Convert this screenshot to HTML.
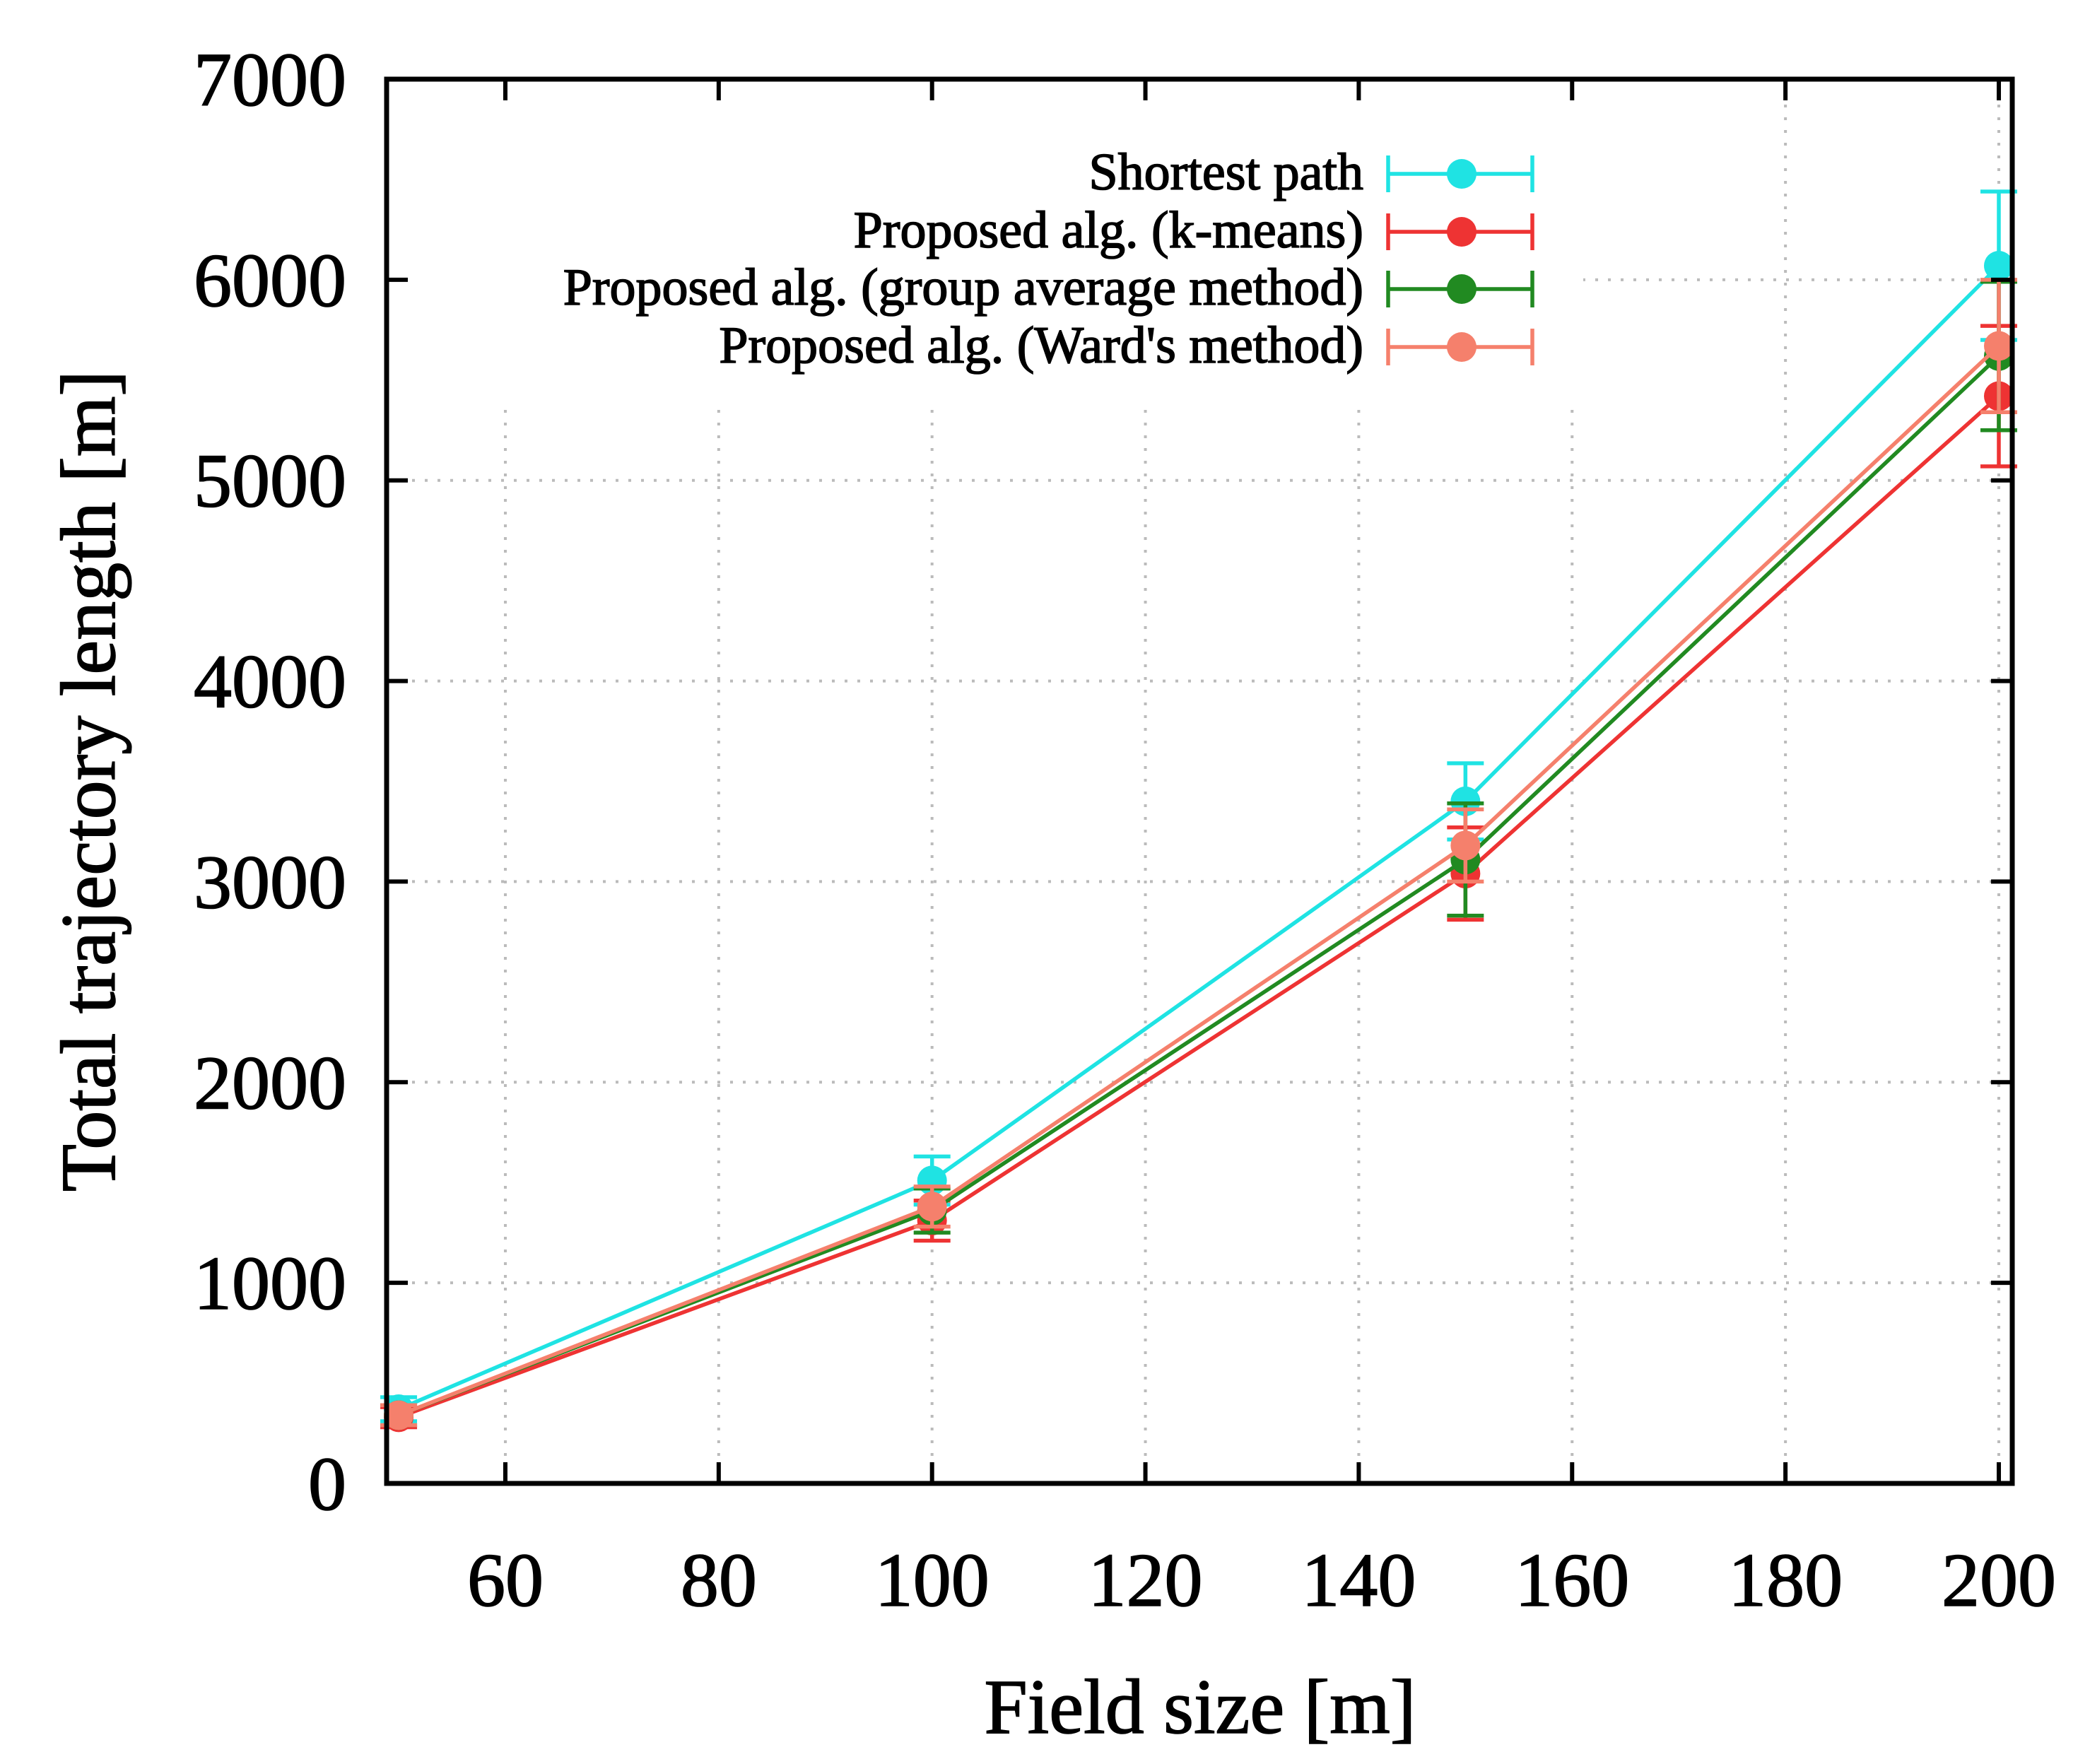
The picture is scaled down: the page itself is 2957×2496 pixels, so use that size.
<!DOCTYPE html>
<html><head><meta charset="utf-8"><style>
html,body{margin:0;padding:0;background:#fff}
svg{display:block}
text{font-family:"Liberation Serif",serif;fill:#000;stroke:#000;stroke-width:1.6}
</style></head><body>
<svg id="chart" width="2957" height="2496" viewBox="0 0 2957 2496" xmlns="http://www.w3.org/2000/svg">
<rect width="2957" height="2496" fill="#fff"/>
<g id="grid"></g>
<g id="series"></g>
<g id="legend"></g>
<g id="axes"></g>
<text x="0" y="0" font-size="110" text-anchor="middle" transform="translate(162,1105) rotate(-90)">Total trajectory length [m]</text>
<text x="1698" y="2452" font-size="110" text-anchor="middle">Field size [m]</text>
</svg>
<script>
const xCategories = [50, 100, 150, 200];
const xTicks = [60, 80, 100, 120, 140, 160, 180, 200];
const yTicks = [0, 1000, 2000, 3000, 4000, 5000, 6000, 7000];
const seriesNames = ["Shortest path", "Proposed alg. (k-means)", "Proposed alg. (group average method)", "Proposed alg. (Ward's method)"];
const shortestVals = [370, 1510, 3400, 6070];
const shortestErr = [60, 120, 190, 370];
const kmeansVals = [330, 1310, 3040, 5420];
const kmeansErr = [50, 100, 230, 350];
const groupVals = [340, 1360, 3110, 5620];
const groupErr = [50, 110, 280, 370];
const wardVals = [340, 1380, 3180, 5670];
const wardErr = [50, 100, 180, 330];

const NS = "http://www.w3.org/2000/svg";
const L = 547, R = 2847, T = 112, B = 2099;
const xMin = 48.87, xMax = 201.26, yMin = 0, yMax = 7000;
function xs(v){ return L + (v - xMin) / (xMax - xMin) * (R - L); }
function ys(v){ return B - (v - yMin) / (yMax - yMin) * (B - T); }
function mk(tag, attrs, parent){ const e = document.createElementNS(NS, tag); for (const k in attrs) e.setAttribute(k, attrs[k]); parent.appendChild(e); return e; }

const grid = document.getElementById('grid');
const axes = document.getElementById('axes');
const series = document.getElementById('series');
const legend = document.getElementById('legend');

xTicks.forEach(t => {
  const g = mk('line', {x1: xs(t), x2: xs(t), y1: T, y2: B, stroke: '#bbb', 'stroke-width': 4, 'stroke-dasharray': '4 14'}, grid);
  
  
});
yTicks.forEach(t => {
  const g = mk('line', {x1: L, x2: R, y1: ys(t), y2: ys(t), stroke: '#bbb', 'stroke-width': 4, 'stroke-dasharray': '4 14'}, grid);
  
  
});
const lb = mk('rect', {x: L + 4, y: T + 4, width: 2236 - L, height: 570 - T, fill: '#fff'}, grid);



const allSeries = [
  {name: seriesNames[0], vals: shortestVals, err: shortestErr, color: '#1fe3e3'},
  {name: seriesNames[1], vals: kmeansVals, err: kmeansErr, color: '#ee3333'},
  {name: seriesNames[2], vals: groupVals, err: groupErr, color: '#218a21'},
  {name: seriesNames[3], vals: wardVals, err: wardErr, color: '#f5806c'}
];
const cap = 26;
allSeries.forEach((s, si) => {
  const grp = mk('g', {}, series);
  
  
  const pts = s.vals.map((v, i) => xs(xCategories[i]) + ',' + ys(v)).join(' ');
  const pl = mk('polyline', {points: pts, fill: 'none', stroke: s.color, 'stroke-width': 5.5}, grp);
  
  
  s.vals.forEach((v, i) => {
    const x = xs(xCategories[i]);
    const y1 = ys(v - s.err[i]), y2 = ys(v + s.err[i]);
    const eb = mk('path', {d: `M${x},${y1}V${y2}M${x-cap},${y1}H${x+cap}M${x-cap},${y2}H${x+cap}`, stroke: s.color, 'stroke-width': 5.5, fill: 'none'}, grp);
    
    
    const c = mk('circle', {cx: x, cy: ys(v), r: 21, fill: s.color}, grp);
    
    
  });
  const ly = [246, 328, 409, 491][si];
  const lg = mk('g', {}, legend);
  
  
  const tx = mk('text', {x: 1929, y: ly + 22, 'font-size': 74, 'text-anchor': 'end'}, lg);
  tx.textContent = s.name;
  mk('path', {d: `M1964,${ly}H2168M1964,${ly-cap}V${ly+cap}M2168,${ly-cap}V${ly+cap}`, stroke: s.color, 'stroke-width': 5.5, fill: 'none'}, lg);
  mk('circle', {cx: 2068, cy: ly, r: 21, fill: s.color}, lg);
});

const fr = mk('rect', {x: L, y: T, width: R - L, height: B - T, fill: 'none', stroke: '#000', 'stroke-width': 7}, axes);


const tl = 30;
xTicks.forEach(t => {
  const x = xs(t);
  mk('path', {d: `M${x},${B}V${B-tl}M${x},${T}V${T+tl}`, stroke: '#000', 'stroke-width': 6}, axes);
  const lab = mk('text', {x: x, y: 2272, 'font-size': 108, 'text-anchor': 'middle'}, axes);
  
  
  lab.textContent = t;
});
yTicks.forEach(t => {
  const y = ys(t);
  mk('path', {d: `M${L},${y}H${L+tl}M${R},${y}H${R-tl}`, stroke: '#000', 'stroke-width': 6}, axes);
  const lab = mk('text', {x: 490, y: y + 37, 'font-size': 108, 'text-anchor': 'end'}, axes);
  
  
  lab.textContent = t;
});
</script>
</body></html>
